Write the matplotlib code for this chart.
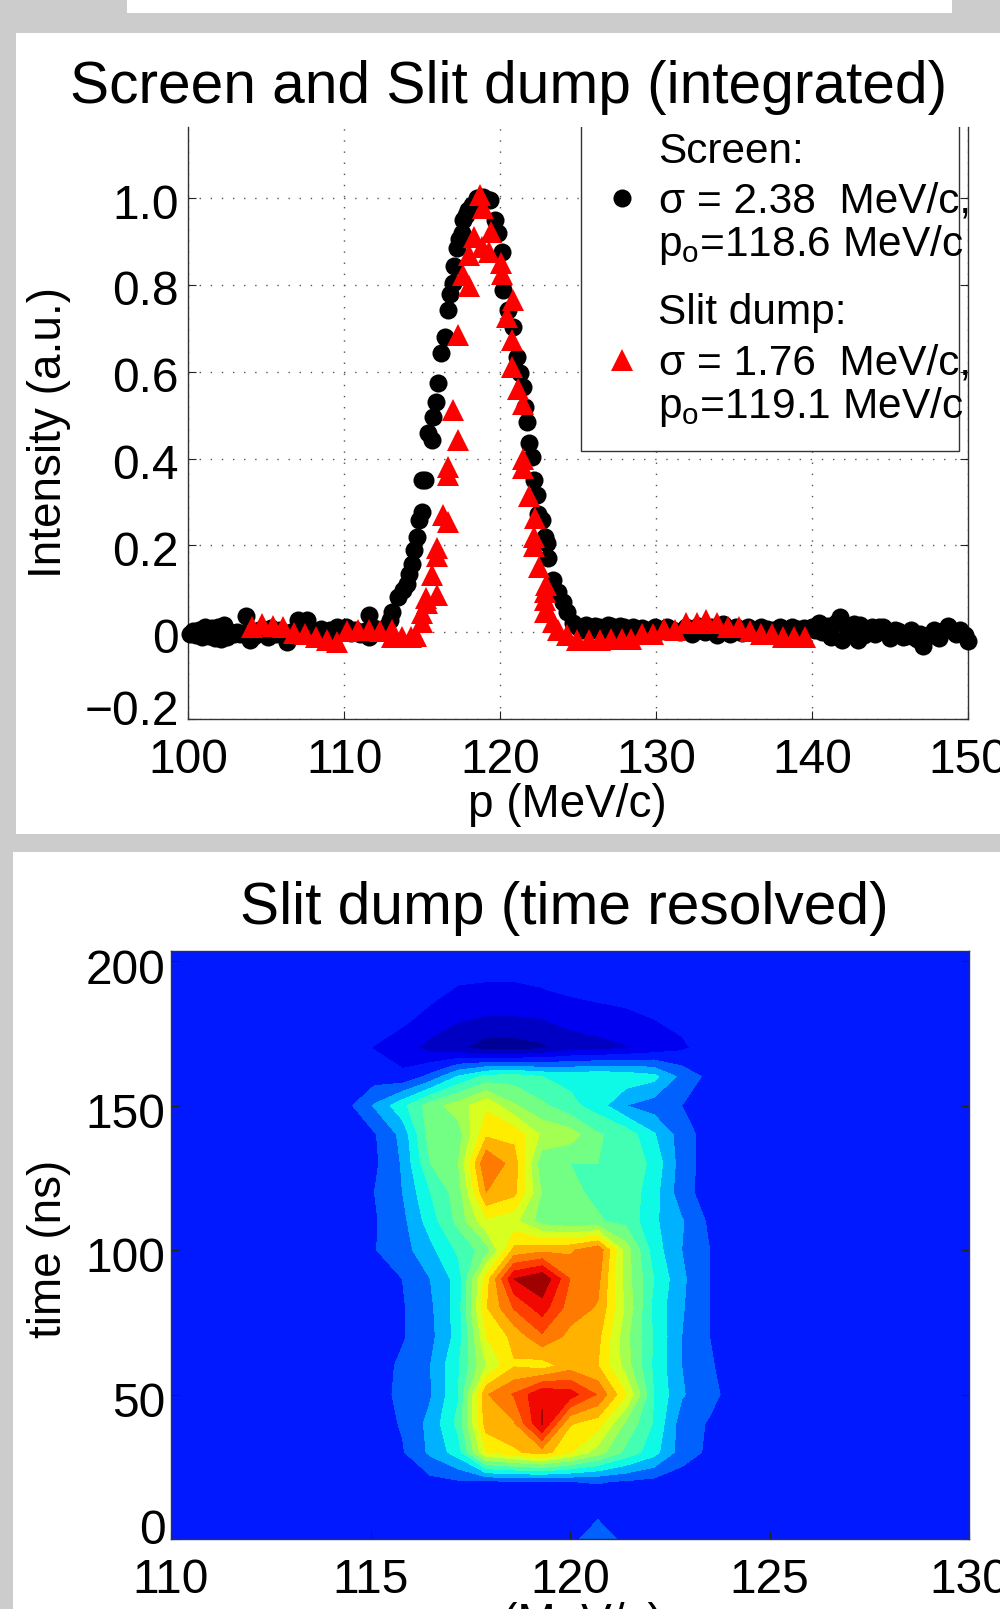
import numpy as np
import matplotlib
matplotlib.use("Agg")
import matplotlib.pyplot as plt
from matplotlib.patches import Rectangle
from matplotlib.lines import Line2D
from matplotlib.transforms import ScaledTranslation

plt.rcParams['font.family'] = ['Liberation Sans', 'DejaVu Sans']
plt.rcParams['mathtext.fontset'] = 'custom'
plt.rcParams['mathtext.rm'] = 'Liberation Sans'
plt.rcParams['mathtext.default'] = 'rm'

# ---- integrated spectra ----
screen_p = [100.1,100.3,100.5,100.7,100.9,101.1,101.3,101.5,101.7,101.9,102.1,102.3,102.5,102.7,102.9,103.1,103.3,103.5,
            103.7,103.97,104.2,104.5,104.8,105.1,105.3,105.6,105.9,106.3,106.6,107.0,107.3,107.6,108.0,108.5,108.8,109.1,109.5,109.8,
            110.1,110.4,110.7,111.0,111.3,111.6,111.6,111.9,112.2,112.5,112.7,112.93,113.04,113.46,113.78,114.04,114.17,114.32,114.49,
            114.64,114.79,114.96,114.96,115.17,115.39,115.6,115.7,115.86,116.03,116.18,116.46,116.63,116.78,116.95,117.03,117.2,117.35,
            117.53,117.63,117.8,117.95,118.2,118.49,118.7,118.9,119.1,119.34,119.66,119.87,120.1,120.2,120.5,120.83,121.05,121.26,
            121.47,121.58,121.69,121.86,122.0,122.16,122.33,122.44,122.65,122.86,122.97,123.08,123.4,123.72,124.0,124.25,124.68,
            125.0,125.25,125.5,125.9,126.1,126.3,126.7,126.9,127.1,127.5,127.7,127.9,128.3,128.5,128.7,129.1,129.5,129.9,130.3,130.7,131.1,131.5,131.9,132.3,132.7,
            133.1,133.5,133.9,134.3,134.7,135.1,135.5,135.9,136.3,136.7,137.1,137.5,137.9,138.3,138.7,139.1,139.5,140.0,
            140.2,140.4,140.6,140.8,141.0,141.2,141.5,141.8,141.9,142.2,142.4,142.7,142.9,143.06,143.3,143.5,143.8,144.0,144.3,144.55,144.8,145.0,145.3,145.5,
            145.8,146.0,146.3,146.5,146.7,146.9,147.1,147.4,147.6,147.8,148.1,148.4,148.7,148.9,149.2,149.5,149.8,150.0]
screen_y = [-.004,.002,-.006,.006,-.012,.012,-.008,.010,-.014,.013,-.016,.016,-.012,.000,-.005,.000,-.004,-.002,
            .037,-.019,-.008,.006,-.002,-.012,.010,-.004,.004,-.022,.000,.028,.008,.028,.000,.008,-.006,.004,.012,.000,
            .012,-.002,.006,-.004,.002,.039,-.012,.010,.002,.006,.012,.028,.047,.081,.097,.112,.135,.158,.189,
            .22,.258,.277,.35,.35,.458,.442,.496,.531,.573,.644,.68,.742,.78,.804,.844,.884,.905,
            .919,.949,.960,.972,.985,.999,1.0,1.002,.998,.995,.949,.919,.876,.788,.742,.703,.634,.596,
            .565,.519,.485,.436,.404,.35,.316,.273,.258,.22,.205,.17,.12,.093,.07,.047,.02,
            .012,.006,.016,.004,.014,.012,.006,.016,.014,.004,.014,.012,.008,.012,.002,.010,.005,.012,.003,.011,.006,.000,.012,-.004,.014,
            .000,.012,-.006,.018,-.004,.012,-.003,.012,-.002,.012,.008,.004,.011,.006,.012,.008,.010,.012,
            .006,.020,.000,.004,.014,-.010,.022,.035,-.019,.012,.008,.018,-.019,.016,-.006,.002,.012,-.004,.012,.012,.000,-.014,.006,.002,
            -.010,-.008,.005,-.012,-.016,-.004,-.032,-.008,-.004,.004,-.014,.002,.014,.006,-.004,.004,-.007,-.02]

slit_p = [104.06,104.75,105.43,106.1,106.8,107.5,108.2,108.9,109.5,110.2,110.9,111.6,112.3,113.05,113.05,113.7,114.3,114.6,115.0,115.0,
          115.24,115.28,115.6,115.92,115.92,115.92,116.31,116.63,116.63,116.63,116.99,117.3,117.31,117.63,118.0,118.01,118.31,118.7,118.8,118.87,
          119.3,119.4,120.05,120.1,120.45,120.77,120.8,120.77,121.13,121.47,121.47,121.47,121.84,122.18,122.18,122.2,122.5,122.87,122.87,122.87,122.91,
          123.08,123.4,123.72,124.25,124.9,125.7,126.4,127.1,127.8,128.4,129.1,129.8,130.5,131.2,131.9,132.6,133.2,133.9,134.6,135.3,136.0,136.7,137.4,138.1,138.8,139.53]
slit_y = [.012,.018,.015,.012,-.002,-.005,-.012,-.017,-.022,.003,.006,.006,.003,.004,-.012,-.012,-.012,-.008,.024,.044,
          .078,.067,.131,.193,.175,.085,.271,.381,.362,.254,.512,.684,.442,.823,.798,.869,.911,1.007,.888,.976,
          .876,.922,.85,.825,.725,.674,.765,.611,.559,.525,.398,.379,.314,.22,.198,.262,.149,.093,.074,.047,.108,
          .047,.024,.005,-.007,-.018,-.018,-.018,-.016,-.016,-.016,-.005,-.005,.007,.005,.02,.022,.029,.022,.012,.012,.003,-.005,-.005,-.012,-.012,-.012]

x1_ticks = [100,110,120,130,140,150]
y1_ticks = [-0.2,0,0.2,0.4,0.6,0.8,1.0]
y1_labels = ['\u22120.2','0','0.2','0.4','0.6','0.8','1.0']

# ---- time resolved map ----
map_p = [113.7,114.4,115.1,115.8,116.5,117.2,117.9,118.6,119.3,120.0,120.7,121.4,122.1,122.8,123.5,124.2,124.9]
map_t = [0,10,20,30,40,50,60,70,80,90,100,110,120,130,140,150,160,170,180,190,200]
row_000 = [0,0,0,0,0,0,0,0,0,0,1.49,0,0,0,0,0,0]
row_010 = [0]*17
row_020 = [0,0,0,0,.2,.4,.45,.45,.45,.5,.55,.45,.2,0,0,0,0]
row_030 = [0,0,0,.4,1.7,3,7.5,8.3,9,7.6,6,4.2,2.9,1,.3,0,0]
row_040 = [0,0,0,.6,1.8,3.8,9,9.4,12.6,8.6,8,5.3,3.4,1,.4,0,0]
row_050 = [0,0,0,.8,1.4,3.4,9.4,10.6,12.4,12,10.4,7.6,3.5,1.6,.8,0,0]
row_060 = [0,0,0,.7,1.5,3.4,6.5,8.4,8,9,8.5,6,3.3,1.5,.6,0,0]
row_070 = [0,0,0,.4,1.2,2.9,7.5,8.8,10.3,9.2,8.8,5.8,3.4,1.5,.5,0,0]
row_080 = [0,0,0,.4,1.3,3,8.4,10.6,12,10,9.4,6.3,3.2,1.6,.5,0,0]
row_090 = [0,0,0,.5,1.5,2.9,8,12.5,13.4,10.5,9.8,6,3.5,1.7,.5,0,0]
row_100 = [0,0,.45,1.1,2.2,3.7,5,8.8,9.2,9.3,10.3,6,3,1.5,.5,0,0]
row_110 = [0,0,.4,1.2,3,4.8,7.3,6.8,5,4.6,4.6,4.2,2.7,1.6,.3,0,0]
row_120 = [0,0,.5,1.5,3.5,5,9.5,8.8,5.4,4.7,4.3,4.2,2.9,.9,0,0,0]
row_130 = [0,0,.3,1.6,4.5,5.5,10.5,9,4.8,4.5,4.5,4.3,3.2,1,0,0,0]
row_140 = [0,0,.4,1.8,5,5,8.3,8.2,6.3,6,4.6,4.1,2.6,1,0,0,0]
row_150 = [0,.2,1.6,3.2,5,6,7.3,5.6,4.7,3.8,3,1.5,1,.5,0,0,0]
row_160 = [0,0,0,-.3,.8,2.6,3.8,4,3.5,3.2,3.4,3.2,2.8,1.2,.2,0,0]
row_170 = [0,-.1,-.55,-1,-1.9,-2.3,-3,-3,-2.7,-2,-1.9,-1.6,-1.2,-.7,0,0,0]
row_180 = [0,0,0,-.3,-.8,-1.4,-1.6,-1.6,-1.5,-1.2,-.9,-.75,-.5,-.2,0,0,0]
row_190 = [0,0,0,0,-.2,-.6,-.7,-.7,-.55,-.3,-.2,-.1,0,0,0,0,0]
row_200 = [0]*17
map_rows = [row_000,row_010,row_020,row_030,row_040,row_050,row_060,row_070,row_080,row_090,row_100,
            row_110,row_120,row_130,row_140,row_150,row_160,row_170,row_180,row_190,row_200]
x2_ticks = [110,115,120,125,130]
y2_ticks = [0,50,100,150,200]

W, H = 1000, 1609
GREY = '#cccccc'
fig = plt.figure(figsize=(W/100, H/100), dpi=100, facecolor=GREY)

def panel(x0, y0, x1, y1):
    fig.add_artist(Rectangle((x0/W, 1-y1/H), (x1-x0)/W, (y1-y0)/H, transform=fig.transFigure,
                             fc='white', ec='none', zorder=-5))
panel(127, -2, 952, 12.7)
panel(16, 33, 1002, 834)
panel(13, 852, 1002, 1612)

def axes_px(l, t, r, b):
    return fig.add_axes([l/W, 1-b/H, (r-l)/W, (b-t)/H])

def style_axis(ax, ypad):
    ax.tick_params(axis='both', direction='in', length=5.8, width=0.8, labelsize=TICK, color='#222222')
    ax.tick_params(axis='x', pad=13.5)
    ax.tick_params(axis='y', pad=ypad, right=True)
    for s in ax.spines.values():
        s.set_linewidth(1.0)
        s.set_color('#333333')

def shift_labels(ax, dy, first_dy):
    labs = ax.get_yticklabels()
    for i, lab in enumerate(labs):
        d = first_dy if i == 0 else dy
        lab.set_transform(lab.get_transform() + ScaledTranslation(0, d/100, fig.dpi_scale_trans))

TICK = 34.5
TITLE = 42.2
LABEL = 33
LEG = 30.5

# ---------- top panel ----------
L1, T1, R1, B1 = 188.3, 127, 968.3, 719
ax1 = axes_px(L1, T1, R1, B1)
ax1.set_xlim(100, 150)
ax1.set_ylim(-0.2, 1.1636)
ax1.set_xticks(x1_ticks)
ax1.set_yticks(y1_ticks)
ax1.set_yticklabels(y1_labels)
style_axis(ax1, 7)
ax1.spines['top'].set_visible(False)
ax1.set_axisbelow(True)
ax1.grid(True, color='#555555', linewidth=1.0, linestyle=(0, (1, 7)))
ax1.plot(screen_p, screen_y, 'o', color='black', ms=13, mew=0, clip_on=False, zorder=3)
ax1.plot(slit_p, slit_y, '^', color='#ff0000', ms=15.5, mew=0, clip_on=False, zorder=4)
shift_labels(ax1, -3, 12)
ax1.set_title('Screen and Slit dump (integrated)', fontsize=TITLE, x=(508.7-L1)/(R1-L1),
              y=(B1-111)/(B1-T1), va='baseline')
ax1.set_xlabel('p (MeV/c)', fontsize=LABEL)
ax1.xaxis.set_label_coords((567-L1)/(R1-L1), (B1-805)/(B1-T1))
ax1.xaxis.label.set_va('center')
ax1.set_ylabel('Intensity (a.u.)', fontsize=LABEL)
ax1.yaxis.set_label_coords((49-L1)/(R1-L1), (B1-433)/(B1-T1))
ax1.yaxis.label.set_va('center')

# legend box
bx0, bx1, bb = 580.5, 959.3, 450.7
fx = lambda px: (px-L1)/(R1-L1)
fy = lambda py: (B1-py)/(B1-T1)
box = Rectangle((fx(bx0), fy(bb)), fx(bx1)-fx(bx0), 1.02-fy(bb),
                transform=ax1.transAxes, fc='white', ec='#333333', lw=1.0, zorder=4.5, clip_on=True)
ax1.add_patch(box)
TXT_X = 658.5
for s, base in [('Screen:', 163), ('p$_{\\mathrm{o}}$=118.6 MeV/c', 256),
                ('Slit dump:', 324), ('p$_{\\mathrm{o}}$=119.1 MeV/c', 418)]:
    ax1.text(fx(TXT_X), fy(base), s, transform=ax1.transAxes, fontsize=LEG, va='baseline', ha='left', zorder=6)
h_sc = Line2D([], [], linestyle='none', marker='o', color='black', ms=13, mew=0)
h_sl = Line2D([], [], linestyle='none', marker='^', color='#ff0000', ms=15.5, mew=0)
leg_kw = dict(fontsize=LEG, frameon=False, loc='lower left', borderpad=0, borderaxespad=0,
              handlelength=1.0, handletextpad=0.38, numpoints=1)
leg1 = ax1.legend([h_sc], ['\u03c3 = 2.38  MeV/c,'], bbox_to_anchor=(fx(600.5), fy(222)), **leg_kw)
leg1.set_zorder(6)
ax1.add_artist(leg1)
leg2 = ax1.legend([h_sl], ['\u03c3 = 1.76  MeV/c,'], bbox_to_anchor=(fx(600.5), fy(384)), **leg_kw)
leg2.set_zorder(6)

# ---------- bottom panel ----------
L2, T2, R2, B2 = 171, 951, 969, 1539
ax2 = axes_px(L2, T2, R2, B2)
band_pos = [.02,.06,.10,.15,.22,.30,.37,.43,.49,.55,.61,.66,.72,.78,.84,.90,.97]
band_cols = [plt.cm.jet(v) for v in band_pos]
levels = np.arange(-3.5, 14.0, 1.0)
ax2.set_facecolor(band_cols[3])
ax2.contourf(map_p, map_t, np.array(map_rows, dtype=float), levels=levels, colors=band_cols, extend='neither')
ax2.set_xlim(110, 130)
ax2.set_ylim(0, (B2-T2)/2.89)
ax2.set_xticks(x2_ticks)
ax2.set_yticks(y2_ticks)
style_axis(ax2, 4)
shift_labels(ax2, -5, 13)
ax2.set_title('Slit dump (time resolved)', fontsize=TITLE, x=(564-L2)/(R2-L2), y=(B2-932)/(B2-T2), va='baseline')
ax2.set_xlabel('p (MeV/c)', fontsize=LABEL)
ax2.xaxis.set_label_coords((563-L2)/(R2-L2), (B2-1602)/(B2-T2))
ax2.xaxis.label.set_va('top')
ax2.set_ylabel('time (ns)', fontsize=LABEL)
ax2.yaxis.set_label_coords((49-L2)/(R2-L2), (B2-1249)/(B2-T2))
ax2.yaxis.label.set_va('center')

fig.savefig('out.png', dpi=100, facecolor=GREY)
